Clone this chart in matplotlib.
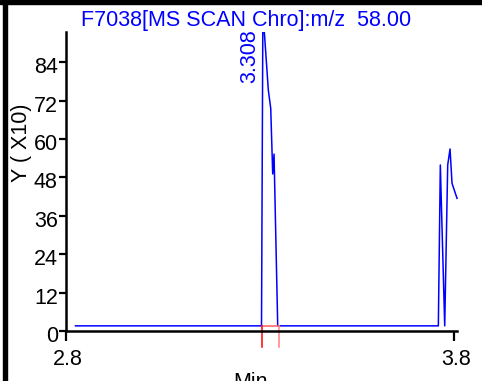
import numpy as np
import matplotlib
matplotlib.use('Agg')
import matplotlib.pyplot as plt
from matplotlib.patches import Rectangle
import matplotlib.transforms as mtransforms

plt.rcParams['font.family'] = ['Liberation Sans', 'DejaVu Sans']

# 色谱数据 (保留时间 min, 强度 X10)
rt = [2.8257, 3.3045, 3.308, 3.3220, 3.3282, 3.3333, 3.3367, 3.3462,
      3.7596, 3.7647, 3.7760, 3.7837, 3.7897, 3.7948, 3.8077]
intensity = [1.7, 1.7, 100.0, 75.3, 69.6, 49.1, 55.3, 1.7,
             1.7, 51.9, 1.7, 51.9, 56.9, 46.2, 41.5]

# 积分基线起止点
base_start = 3.305
base_end = 3.3506
base_level = 1.8

peak_rt = 3.308
title = 'F7038[MS SCAN Chro]:m/z  58.00'
yticks = [0, 12, 24, 36, 48, 60, 72, 84]
xticks = [2.8, 3.8]

W, H = 482, 381
fig = plt.figure(figsize=(W / 100, H / 100), dpi=100)

x0, x1 = 65.5, 458.7
y_top, y_bot = 31.7, 331.3
ax = fig.add_axes([x0 / W, 1 - y_bot / H, (x1 - x0) / W, (y_bot - y_top) / H])

ax.plot(rt, intensity, color='#0000ff', lw=1.1)

# 基线标记
ax.plot([base_start, base_end], [base_level, base_level], color='#ff6060', lw=1.1, clip_on=False)
ax.plot([base_start, base_start], [base_level, -4.9], color='#ff0000', lw=1.1, clip_on=False)
ax.plot([base_end, base_end], [base_level, -4.9], color='#ff8080', lw=1.1, clip_on=False)

ax.set_xlim(2.8, 3.812)
ax.set_ylim(0, 93.5)
for s in ['top', 'right']:
    ax.spines[s].set_visible(False)
for s in ['left', 'bottom']:
    ax.spines[s].set_linewidth(1.8)
ax.spines['bottom'].set_bounds(2.8, 3.808)

ax.set_yticks(yticks)
ax.set_xticks(xticks)
ax.set_xticklabels(['2.8', '3.8'])
ax.tick_params(axis='y', direction='out', length=5, width=1.6, pad=0.5, labelsize=15.5)
ax.tick_params(axis='x', direction='out', length=7.5, width=1.6, pad=5, labelsize=15.5)
dy = mtransforms.ScaledTranslation(0, -3 / 100, fig.dpi_scale_trans)
for lab in ax.get_yticklabels():
    lab.set_transform(lab.get_transform() + dy)
dx = mtransforms.ScaledTranslation(2.5 / 100, 0, fig.dpi_scale_trans)
for lab in ax.get_xticklabels():
    lab.set_transform(lab.get_transform() + dx)

ax.annotate(f'{peak_rt:.3f}', xy=(peak_rt, 93.5), xytext=(-3, -24),
            textcoords='offset pixels', rotation=90, ha='right', va='center',
            color='#0000ff', fontsize=15.5)

fig.text(245.7 / W, 1 - 26 / H, title, color='#0000ff', fontsize=15.5,
         ha='center', va='baseline')
fig.text(21 / W, 1 - 143 / H, 'Y ( X10)', rotation=90, fontsize=15.5,
         ha='center', va='center')
fig.text(250 / W, 1 - 372 / H, 'Min', fontsize=15.5, ha='center', va='top')

# 外框
fig.patches.append(Rectangle((0, 1 - 4 / H), 1, 4 / H, transform=fig.transFigure,
                             color='black', zorder=10))
fig.patches.append(Rectangle((3 / W, 0), 4 / W, 1, transform=fig.transFigure,
                             color='black', zorder=10))

fig.savefig('out.png', dpi=100)
